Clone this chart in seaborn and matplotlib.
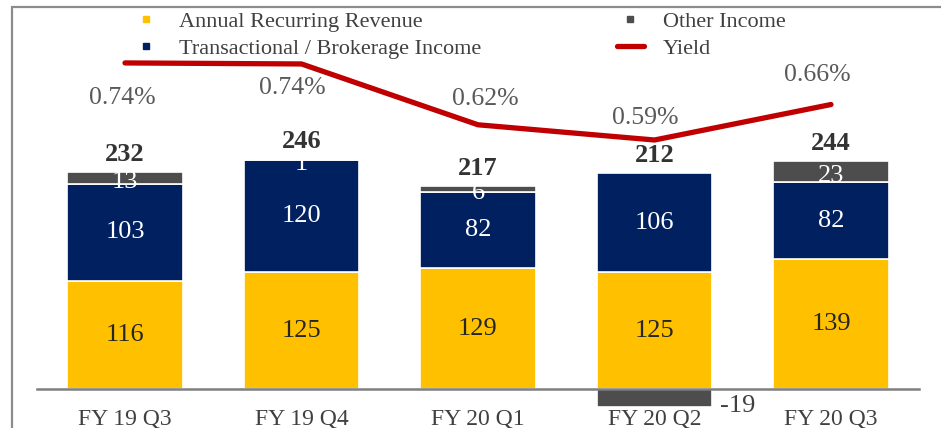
import numpy as np
import matplotlib.pyplot as plt
import seaborn as sns
from matplotlib.lines import Line2D
from matplotlib.patches import Rectangle

# Données
quarters = ["FY 19 Q3", "FY 19 Q4", "FY 20 Q1", "FY 20 Q2", "FY 20 Q3"]
arr = np.array([116, 125, 129, 125, 139])
tbi = np.array([103, 120, 82, 106, 82])
other = np.array([13, 1, 6, -19, 23])
totals = np.array([232, 246, 217, 212, 244])
yield_pct = np.array([0.742, 0.740, 0.62, 0.59, 0.66])

C_ARR = "#FFC000"
C_TBI = "#002060"
C_OTH = "#4D4D4D"
C_YLD = "#C00000"

sns.set_theme(style="white")
plt.rcParams["font.family"] = ["Liberation Serif", "DejaVu Serif"]

W, H = 941, 428
fig = plt.figure(figsize=(W / 100, H / 100), dpi=100)
ax = fig.add_axes([36.75 / W, 1 - 389 / H, (919.25 - 36.75) / W, (389 - 20) / H])

# barres empilées
sns.barplot(x=quarters, y=arr, color=C_ARR, width=0.655, edgecolor="white",
            linewidth=1.2, saturation=1, ax=ax)
sns.barplot(x=quarters, y=tbi, bottom=arr, color=C_TBI, width=0.655,
            edgecolor="white", linewidth=1.2, saturation=1, ax=ax)
oth_bottom = np.where(other >= 0, arr + tbi, 0)
sns.barplot(x=quarters, y=other, bottom=oth_bottom, color=C_OTH, width=0.655,
            edgecolor="white", linewidth=1.2, saturation=1, ax=ax)
for p in ax.patches:
    p.set_clip_on(False)

ax.set_axisbelow(False)
ax.set_xlim(-0.5, 4.5)
ax.set_ylim(0, 369 / 0.935)
ax.set_yticks([])
ax.set_xlabel("")
ax.set_ylabel("")
for s in ["top", "left", "right"]:
    ax.spines[s].set_visible(False)
ax.spines["bottom"].set_color("#7F7F7F")
ax.spines["bottom"].set_linewidth(1.8)
ax.tick_params(axis="x", length=0, pad=14, labelsize=17, labelcolor="#404040")

# étiquettes des segments
for i in range(len(quarters)):
    ax.text(i, arr[i] / 2, str(arr[i]), ha="center", va="center",
            fontsize=19, color="#262626")
    ax.text(i, arr[i] + tbi[i] / 2, str(tbi[i]), ha="center", va="center",
            fontsize=19, color="white")
    if other[i] >= 0:
        ax.annotate(str(other[i]), (i, arr[i] + tbi[i] + other[i] / 2),
                    xytext=(0, -3), textcoords="offset points",
                    ha="center", va="center", fontsize=19, color="white")
    else:
        ax.annotate(str(other[i]), (i + 0.33, other[i] / 2),
                    xytext=(18, -6), textcoords="offset points",
                    ha="center", va="center", fontsize=19, color="#404040",
                    annotation_clip=False)
    top = arr[i] + tbi[i] + max(other[i], 0)
    ax.annotate(str(totals[i]), (i, top), xytext=(0, 12.5),
                textcoords="offset points", ha="center", va="center",
                fontsize=19, fontweight="bold", color="#333333")

# rendement sur axe secondaire
ax2 = ax.twinx()
xpos = np.arange(len(quarters))
sns.lineplot(x=xpos, y=yield_pct, color=C_YLD, linewidth=3.8, sort=False,
             ax=ax2, solid_capstyle="round")
ax2.set_ylim(0.59 - 249 / 507, 0.59 + 120 / 507)
ax2.set_xlim(-0.5, 4.5)
ax2.set_yticks([])
ax2.set_ylabel("")
for s in ax2.spines.values():
    s.set_visible(False)

offsets = [(-2, -25), (-6.5, -17), (5, 18.5), (-7, 16), (-10, 21)]
for i, v in enumerate(yield_pct):
    ax2.annotate(f"{v:.2f}%", (i, v), xytext=offsets[i],
                 textcoords="offset points", ha="center", va="center",
                 fontsize=18.5, color="#595959")

# légende
h1 = [Line2D([], [], marker="s", markersize=5, ls="none", color=C_ARR),
      Line2D([], [], marker="s", markersize=5, ls="none", color=C_TBI)]
h2 = [Line2D([], [], marker="s", markersize=5, ls="none", color=C_OTH),
      Line2D([], [], color=C_YLD, lw=3.8, solid_capstyle="round")]
common = dict(frameon=False, fontsize=16, labelcolor="#404040",
              handlelength=1.2, handletextpad=0.85, labelspacing=0.3,
              borderpad=0, borderaxespad=0, loc="upper left")
fig.legend(h1, ["Annual Recurring Revenue", "Transactional / Brokerage Income"],
           bbox_to_anchor=(133 / W, 1 - 11 / H), **common)
fig.legend(h2, ["Other Income", "Yield"],
           bbox_to_anchor=(617 / W, 1 - 11 / H), **common)

# cadre
fig.patches.append(Rectangle((12 / W, -0.5), 2, 0.5 + 1 - 7 / H,
                             transform=fig.transFigure, fill=False,
                             edgecolor="#8C8C8C", linewidth=1.6))

fig.savefig("out.png", dpi=100)
